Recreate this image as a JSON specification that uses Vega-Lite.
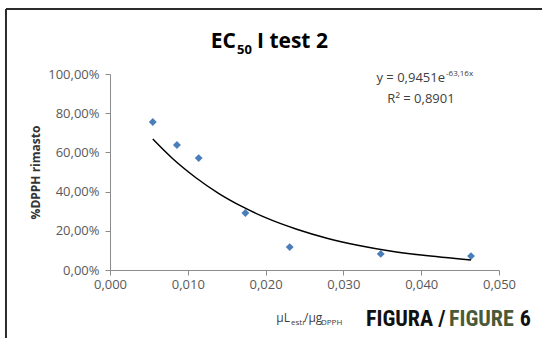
{
  "$schema": "https://vega.github.io/schema/vega-lite/v6.json",
  "width": 389,
  "height": 196,
  "autosize": {"type": "none"},
  "padding": {"left": 110, "top": 74, "right": 43, "bottom": 68},
  "background": "#ffffff",
  "config": {
    "view": {"stroke": null},
    "locale": {"number": {"decimal": ",", "thousands": ".", "grouping": [3], "currency": ["", " €"]}},
    "axis": {
      "domainColor": "#8c8c8c",
      "tickColor": "#8c8c8c",
      "tickSize": 5,
      "labelColor": "#595959",
      "labelFont": "Open Sans",
      "labelFontSize": 13,
      "labelOverlap": false,
      "labelFlush": false,
      "grid": false
    }
  },
  "datasets": {
    "misure": [
      {"rapporto": 0.0055, "dpph": 0.755},
      {"rapporto": 0.0086, "dpph": 0.638},
      {"rapporto": 0.0114, "dpph": 0.571},
      {"rapporto": 0.0174, "dpph": 0.291},
      {"rapporto": 0.0231, "dpph": 0.117},
      {"rapporto": 0.0348, "dpph": 0.082},
      {"rapporto": 0.0464, "dpph": 0.071}
    ],
    "tendenza": [
      {"rapporto": 0.0055, "dpph": 0.668},
      {"rapporto": 0.008, "dpph": 0.570},
      {"rapporto": 0.011, "dpph": 0.472},
      {"rapporto": 0.014, "dpph": 0.390},
      {"rapporto": 0.017, "dpph": 0.323},
      {"rapporto": 0.020, "dpph": 0.267},
      {"rapporto": 0.024, "dpph": 0.208},
      {"rapporto": 0.028, "dpph": 0.161},
      {"rapporto": 0.032, "dpph": 0.125},
      {"rapporto": 0.036, "dpph": 0.097},
      {"rapporto": 0.040, "dpph": 0.076},
      {"rapporto": 0.0464, "dpph": 0.051}
    ]
  },
  "layer": [
    {
      "data": {"name": "misure"},
      "mark": {"type": "point", "shape": "diamond", "filled": true, "color": "#4a7ebb", "size": 62, "opacity": 1},
      "encoding": {
        "x": {
          "field": "rapporto", "type": "quantitative",
          "scale": {"domain": [0, 0.05], "nice": false, "zero": false},
          "axis": {"values": [0, 0.01, 0.02, 0.03, 0.04, 0.05], "tickCount": 12, "format": ".3f", "title": null, "labelPadding": 3}
        },
        "y": {
          "field": "dpph", "type": "quantitative",
          "scale": {"domain": [0, 1], "nice": false},
          "axis": {
            "values": [0, 0.2, 0.4, 0.6, 0.8, 1],
            "tickCount": 12,
            "format": ".2%",
            "title": "%DPPH rimasto",
            "titleFont": "Open Sans",
            "titleFontSize": 12,
            "titleFontWeight": "bold",
            "titleColor": "#333333",
            "titlePadding": 5,
            "labelPadding": 6
          }
        }
      }
    },
    {
      "data": {"name": "tendenza"},
      "mark": {"type": "line", "color": "#000000", "strokeWidth": 1.5, "interpolate": "monotone"},
      "encoding": {
        "x": {"field": "rapporto", "type": "quantitative"},
        "y": {"field": "dpph", "type": "quantitative"}
      }
    },
    {
      "data": {"values": [{}]},
      "mark": {"type": "rule", "color": "#2b2b2b", "strokeWidth": 2, "clip": false},
      "encoding": {
        "x": {"datum": -0.01337},
        "y": {"datum": 1.3316},
        "y2": {"datum": -0.42}
      }
    },
    {
      "data": {"values": [{}]},
      "mark": {"type": "rule", "color": "#2b2b2b", "strokeWidth": 2, "clip": false},
      "encoding": {
        "y": {"datum": 1.3316},
        "x": {"datum": -0.01337},
        "x2": {"datum": 0.057}
      }
    },
    {
      "data": {"values": [{}]},
      "mark": {"type": "text", "text": "EC", "align": "right", "baseline": "alphabetic", "font": "Open Sans", "fontSize": 21, "fontWeight": "bold", "color": "#000000"},
      "encoding": {"x": {"datum": 0.016195}, "y": {"datum": 1.1327}}
    },
    {
      "data": {"values": [{}]},
      "mark": {"type": "text", "text": "50", "align": "left", "baseline": "alphabetic", "font": "Open Sans", "fontSize": 13, "fontWeight": "bold", "color": "#000000"},
      "encoding": {"x": {"datum": 0.016324}, "y": {"datum": 1.102}}
    },
    {
      "data": {"values": [{}]},
      "mark": {"type": "text", "text": "I test 2", "align": "left", "baseline": "alphabetic", "font": "Open Sans", "fontSize": 21, "fontWeight": "bold", "color": "#000000"},
      "encoding": {"x": {"datum": 0.018895}, "y": {"datum": 1.1327}}
    },
    {
      "data": {"values": [{}]},
      "mark": {"type": "text", "text": "y = 0,9451e", "align": "right", "baseline": "alphabetic", "font": "Open Sans", "fontSize": 13, "color": "#404040"},
      "encoding": {"x": {"datum": 0.04306}, "y": {"datum": 0.9592}}
    },
    {
      "data": {"values": [{}]},
      "mark": {"type": "text", "text": "-63,16x", "align": "left", "baseline": "alphabetic", "font": "Open Sans", "fontSize": 8, "color": "#404040"},
      "encoding": {"x": {"datum": 0.043188}, "y": {"datum": 0.9898}}
    },
    {
      "data": {"values": [{}]},
      "mark": {"type": "text", "text": "R² = 0,8901", "align": "center", "baseline": "alphabetic", "font": "Open Sans", "fontSize": 13, "color": "#404040"},
      "encoding": {"x": {"datum": 0.039974}, "y": {"datum": 0.852}}
    },
    {
      "data": {"values": [{}]},
      "mark": {"type": "text", "text": "μL", "align": "right", "baseline": "alphabetic", "font": "Open Sans", "fontSize": 12, "color": "#404040"},
      "encoding": {"x": {"datum": 0.023136}, "y": {"datum": -0.2653}}
    },
    {
      "data": {"values": [{}]},
      "mark": {"type": "text", "text": "estr", "align": "left", "baseline": "alphabetic", "font": "Open Sans", "fontSize": 8, "color": "#404040"},
      "encoding": {"x": {"datum": 0.023265}, "y": {"datum": -0.2806}}
    },
    {
      "data": {"values": [{}]},
      "mark": {"type": "text", "text": "/μg", "align": "left", "baseline": "alphabetic", "font": "Open Sans", "fontSize": 12, "color": "#404040"},
      "encoding": {"x": {"datum": 0.024936}, "y": {"datum": -0.2653}}
    },
    {
      "data": {"values": [{}]},
      "mark": {"type": "text", "text": "DPPH", "align": "left", "baseline": "alphabetic", "font": "Open Sans", "fontSize": 8, "color": "#404040"},
      "encoding": {"x": {"datum": 0.027121}, "y": {"datum": -0.2806}}
    },
    {
      "data": {"values": [{}]},
      "mark": {"type": "text", "text": "FIGURA /", "align": "left", "baseline": "alphabetic", "font": "Roboto Condensed, Liberation Sans Narrow, Roboto", "fontSize": 22, "fontWeight": "bold", "color": "#111111"},
      "encoding": {"x": {"datum": 0.032905}, "y": {"datum": -0.2857}}
    },
    {
      "data": {"values": [{}]},
      "mark": {"type": "text", "text": "FIGURE", "align": "left", "baseline": "alphabetic", "font": "Roboto Condensed, Liberation Sans Narrow, Roboto", "fontSize": 22, "fontWeight": "bold", "color": "#4a5a38"},
      "encoding": {"x": {"datum": 0.043573}, "y": {"datum": -0.2857}}
    },
    {
      "data": {"values": [{}]},
      "mark": {"type": "text", "text": "6", "align": "right", "baseline": "alphabetic", "font": "Roboto Condensed, Liberation Sans Narrow, Roboto", "fontSize": 22, "fontWeight": "bold", "color": "#111111"},
      "encoding": {"x": {"datum": 0.054113}, "y": {"datum": -0.2857}}
    }
  ]
}
